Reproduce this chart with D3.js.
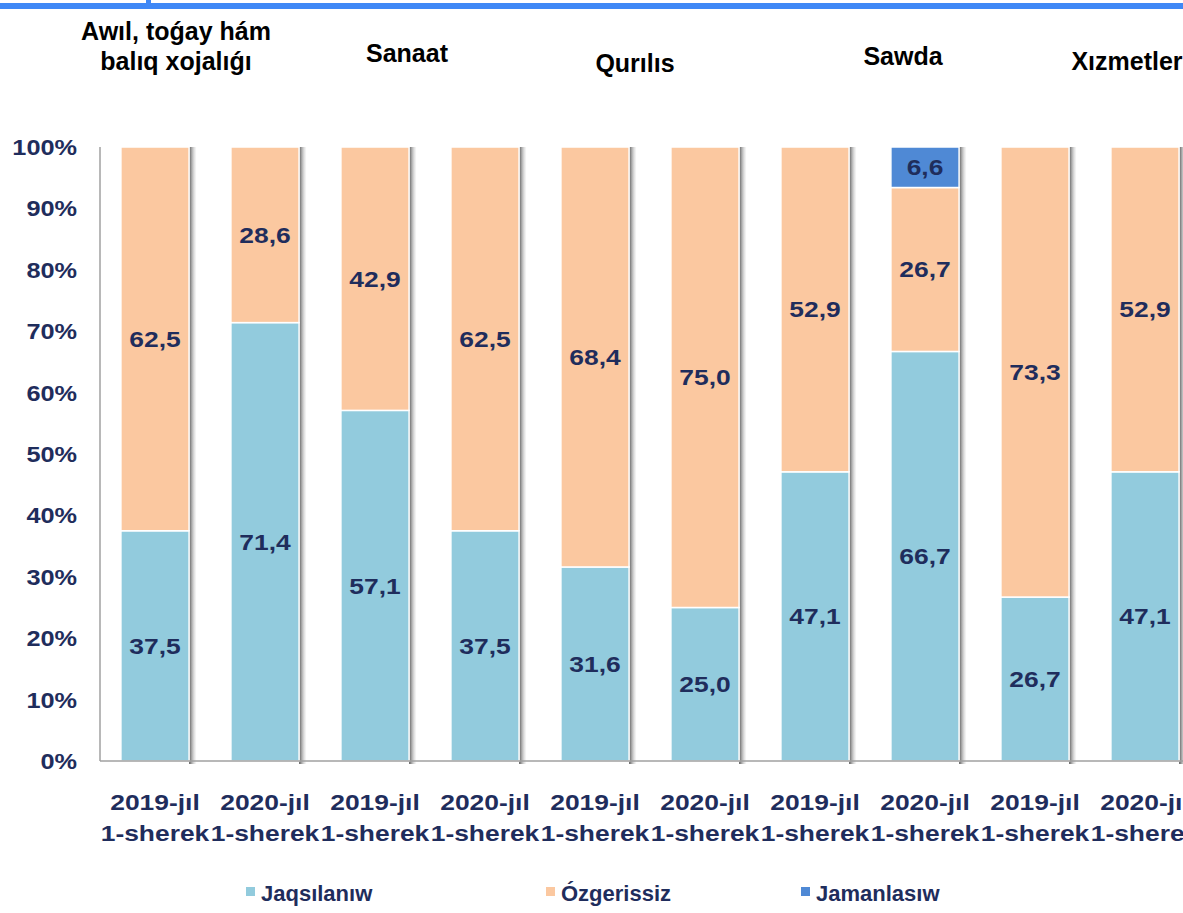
<!DOCTYPE html>
<html>
<head>
<meta charset="utf-8">
<script src="https://cdn.jsdelivr.net/npm/d3@7"></script>
<style>
  body { margin: 0; background: #fff; }
  svg { display: block; font-family: "Liberation Sans", Arial, sans-serif; }
</style>
</head>
<body>
<script>
// chart data
const periods = ['2019-jıl|1-sherek', '2020-jıl|1-sherek', '2019-jıl|1-sherek', '2020-jıl|1-sherek', '2019-jıl|1-sherek',
                 '2020-jıl|1-sherek', '2019-jıl|1-sherek', '2020-jıl|1-sherek', '2019-jıl|1-sherek', '2020-jıl|1-sherek'];
const sectors = ['Awıl, toǵay hám|balıq xojalıǵı', 'Sanaat', 'Qurılıs', 'Sawda', 'Xızmetler'];
const seriesNames = ['Jaqsılanıw', 'Ózgerissiz', 'Jamanlasıw'];
const jaqsilaniw = [37.5, 71.4, 57.1, 37.5, 31.6, 25.0, 47.1, 66.7, 26.7, 47.1];
const ozgerissiz = [62.5, 28.6, 42.9, 62.5, 68.4, 75.0, 52.9, 26.7, 73.3, 52.9];
const jamanlasiw = [0, 0, 0, 0, 0, 0, 0, 6.6, 0, 0];
const yTicks = [0, 10, 20, 30, 40, 50, 60, 70, 80, 90, 100];

const W = 1183, H = 913;
const colors = ['#92cbdd', '#fbc8a0', '#4f89d5'];
const navy = '#1f2d5c';

// title boxes sit freely above the bars (layout only)
const titlePos = [[176, 40], [407, 62], [635, 72], [903, 65], [1127, 70]];

const data = periods.map((p, i) => ({
  key: i,
  period: p,
  s0: jaqsilaniw[i],
  s1: ozgerissiz[i],
  s2: jamanlasiw[i]
}));

const stack = d3.stack().keys(['s0', 's1', 's2'])(data);

const x = d3.scaleBand()
  .domain(data.map(d => d.key))
  .range([100, 1200])
  .paddingInner(0.38)
  .paddingOuter(0.19);

const y = d3.scaleLinear()
  .domain([0, 100])
  .range([761, 147]);

const svg = d3.select('body').append('svg')
  .attr('width', W)
  .attr('height', H);

const defs = svg.append('defs');
const grad = defs.append('linearGradient').attr('id', 'shade');
grad.append('stop').attr('offset', '0%').attr('stop-color', '#444').attr('stop-opacity', 0.9);
grad.append('stop').attr('offset', '100%').attr('stop-color', '#bbb').attr('stop-opacity', 0.1);

// top blue rule
svg.append('rect').attr('x', 0).attr('y', 3).attr('width', W).attr('height', 6).attr('fill', '#3f88f6');
svg.append('rect').attr('x', 146).attr('y', 0).attr('width', 5).attr('height', 9).attr('fill', '#3f88f6');

// sector titles
sectors.forEach((s, i) => {
  const [cx, ty] = titlePos[i];
  const t = svg.append('text')
    .attr('x', cx)
    .attr('y', ty)
    .attr('text-anchor', 'middle')
    .attr('font-size', 25)
    .attr('font-weight', 'bold')
    .attr('fill', '#000');
  s.split('|').forEach((l, j) => {
    t.append('tspan').attr('x', cx).attr('dy', j ? 30 : 0).text(l);
  });
});

// bar shadows
svg.append('g')
  .selectAll('rect')
  .data(data)
  .join('rect')
  .attr('x', d => x(d.key) + x.bandwidth())
  .attr('y', y(100))
  .attr('width', 7)
  .attr('height', y(0) - y(100) + 3)
  .attr('fill', 'url(#shade)');

// stacked segments
const layers = svg.append('g')
  .selectAll('g')
  .data(stack)
  .join('g')
  .attr('fill', (d, i) => colors[i]);

layers.selectAll('rect')
  .data(d => d.filter(v => v[1] - v[0] > 0))
  .join('rect')
  .attr('x', d => x(d.data.key))
  .attr('y', d => y(d[1]))
  .attr('width', x.bandwidth())
  .attr('height', d => y(d[0]) - y(d[1]))
  .attr('stroke', '#fff')
  .attr('stroke-width', 1.5);

// value labels
layers.selectAll('text')
  .data(d => d.filter(v => v[1] - v[0] > 0))
  .join('text')
  .attr('transform', d => `translate(${x(d.data.key) + x.bandwidth() / 2},${(y(d[0]) + y(d[1])) / 2 + 8}) scale(1.2,1)`)
  .attr('text-anchor', 'middle')
  .attr('font-size', 22)
  .attr('font-weight', 'bold')
  .attr('fill', navy)
  .text(d => d3.format('.1f')(d[1] - d[0]).replace('.', ','));

// axes lines
svg.append('line')
  .attr('x1', 100).attr('x2', 100)
  .attr('y1', y(100)).attr('y2', y(0))
  .attr('stroke', '#a0a0a0').attr('stroke-width', 1.5);
svg.append('line')
  .attr('x1', 100).attr('x2', W)
  .attr('y1', y(0)).attr('y2', y(0))
  .attr('stroke', '#a0a0a0').attr('stroke-width', 1.5);

// y tick labels
svg.append('g')
  .selectAll('text')
  .data(yTicks)
  .join('text')
  .attr('transform', d => `translate(77,${y(d) + 8}) scale(1.15,1)`)
  .attr('text-anchor', 'end')
  .attr('font-size', 22)
  .attr('font-weight', 'bold')
  .attr('fill', navy)
  .text(d => d + '%');

// x tick labels
const xl = svg.append('g')
  .selectAll('g')
  .data(data)
  .join('g')
  .attr('transform', d => `translate(${x(d.key) + x.bandwidth() / 2},810) scale(1.2,1)`);
xl.append('text')
  .attr('text-anchor', 'middle')
  .attr('font-size', 22)
  .attr('font-weight', 'bold')
  .attr('fill', navy)
  .selectAll('tspan')
  .data(d => d.period.split('|'))
  .join('tspan')
  .attr('x', 0)
  .attr('dy', (d, i) => i ? 31 : 0)
  .text(d => d);

// legend
const legendX = [246, 546, 801];
const lg = svg.append('g')
  .selectAll('g')
  .data(seriesNames)
  .join('g')
  .attr('transform', (d, i) => `translate(${legendX[i]},901)`);
lg.append('rect')
  .attr('x', 0).attr('y', -14)
  .attr('width', 9).attr('height', 9)
  .attr('fill', (d, i) => colors[i]);
lg.append('text')
  .attr('x', 15)
  .attr('font-size', 22)
  .attr('font-weight', 'bold')
  .attr('fill', navy)
  .text(d => d);
</script>
</body>
</html>
